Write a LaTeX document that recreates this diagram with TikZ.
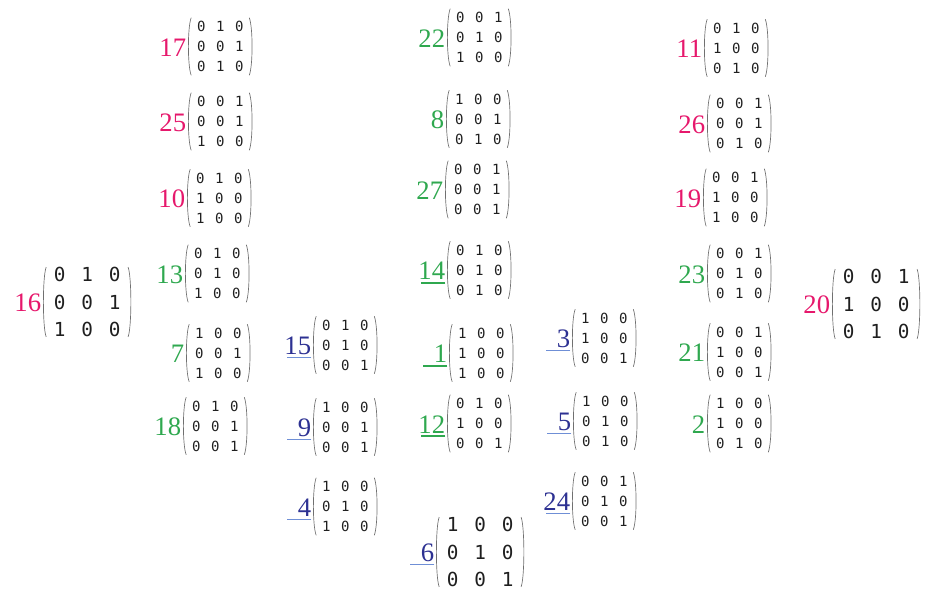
\documentclass[tikz,border=0pt]{standalone}
\usepackage{fontspec}
\setmainfont{Liberation Serif}
\newfontfamily\monof{DejaVu Sans Mono}
\newlength\cw
\newcommand\trip[3]{\makebox[\cw]{#1}\makebox[\cw]{#2}\makebox[\cw]{#3}}
\definecolor{pk}{HTML}{E6186C}
\definecolor{gn}{HTML}{2FA84F}
\definecolor{nv}{HTML}{2D3192}
\definecolor{ulblue}{HTML}{6F8FD6}
\definecolor{pgray}{HTML}{707070}
\tikzset{
  sm/.style={anchor=west, inner xsep=2.6pt, inner ysep=0pt, minimum height=42.75pt,
    align=center, text=black!88,
    font={\setlength\cw{14.25pt}\fontsize{10.5}{15}\selectfont\monof}},
  bg/.style={anchor=west, inner xsep=2pt, inner ysep=0pt, minimum height=52pt,
    align=center, text=black!88,
    font={\setlength\cw{20.6pt}\fontsize{14.5}{20.3}\selectfont\monof}},
  lab/.style={anchor=east, inner sep=0pt, font=\fontsize{20}{24}\selectfont},
  lp/.style={lab, text=pk},
  lg/.style={lab, text=gn},
  lb/.style={lab, text=nv},
  paren/.style={draw=pgray, line width=0.5pt},
  ulb/.style={draw=ulblue, line width=0.7pt},
  ulg/.style={draw=gn, line width=1.3pt}
}
\newcommand\entry[8]{%
  \node[#4] (m#1) at (#2,#3) {\trip#6\\\trip#7\\\trip#8};
  \node[#5] (l#1) at ([xshift=-1.2pt,yshift=-0.8pt]m#1.west) {#1};
  \draw[paren] ([xshift=2.4pt]m#1.north west) .. controls ([xshift=-0.4pt,yshift=-7pt]m#1.north west) and ([xshift=-0.4pt,yshift=7pt]m#1.south west) .. ([xshift=2.4pt]m#1.south west);
  \draw[paren] ([xshift=-2.4pt]m#1.north east) .. controls ([xshift=0.4pt,yshift=-7pt]m#1.north east) and ([xshift=0.4pt,yshift=7pt]m#1.south east) .. ([xshift=-2.4pt]m#1.south east);
}
\newcommand\ul[2]{\draw[#2] ([yshift=-2pt]l#1.south east) -- ++(-18.5pt,0);}
\begin{document}
\begin{tikzpicture}[x=0.75pt,y=-0.75pt]
\useasboundingbox (0,0) rectangle (926,592);
% left column
\entry{17}{188}{46.5}{sm}{lp}{010}{001}{010}
\entry{25}{188}{121.5}{sm}{lp}{001}{001}{100}
\entry{10}{187}{198}{sm}{lp}{010}{100}{100}
\entry{13}{185}{273.5}{sm}{lg}{010}{010}{100}
\entry{7}{186}{353}{sm}{lg}{100}{001}{100}
\entry{18}{183}{426}{sm}{lg}{010}{001}{001}
% middle column
\entry{22}{447}{37.5}{sm}{lg}{001}{010}{100}
\entry{8}{446}{119}{sm}{lg}{100}{001}{010}
\entry{27}{445}{189.5}{sm}{lg}{001}{001}{001}
\entry{14}{447}{270}{sm}{lg}{010}{010}{010}
\entry{1}{449}{353}{sm}{lg}{100}{100}{100}
\entry{12}{447}{423.5}{sm}{lg}{010}{100}{001}
\entry{6}{436}{552}{bg}{lb}{100}{010}{001}
% blue left-middle
\entry{15}{313}{345}{sm}{lb}{010}{010}{001}
\entry{9}{313}{427}{sm}{lb}{100}{001}{001}
\entry{4}{313}{506.5}{sm}{lb}{100}{010}{100}
% blue right-middle
\entry{3}{572}{338}{sm}{lb}{100}{100}{001}
\entry{5}{573}{421}{sm}{lb}{100}{010}{010}
\entry{24}{572}{501}{sm}{lb}{001}{010}{001}
% right column
\entry{11}{704}{48}{sm}{lp}{010}{100}{010}
\entry{26}{707}{123.5}{sm}{lp}{001}{001}{010}
\entry{19}{703}{197.5}{sm}{lp}{001}{100}{100}
\entry{23}{707}{273.5}{sm}{lg}{001}{010}{010}
\entry{21}{707}{352}{sm}{lg}{001}{100}{001}
\entry{2}{707}{423.5}{sm}{lg}{100}{100}{010}
% big ones
\entry{16}{43}{302}{bg}{lp}{010}{001}{100}
\entry{20}{832}{304}{bg}{lp}{001}{100}{010}
% underlines
\ul{14}{ulg}
\ul{1}{ulg}
\ul{12}{ulg}
\ul{15}{ulb}
\ul{9}{ulb}
\ul{4}{ulb}
\ul{3}{ulb}
\ul{5}{ulb}
\ul{24}{ulb}
\ul{6}{ulb}
\end{tikzpicture}
\end{document}
